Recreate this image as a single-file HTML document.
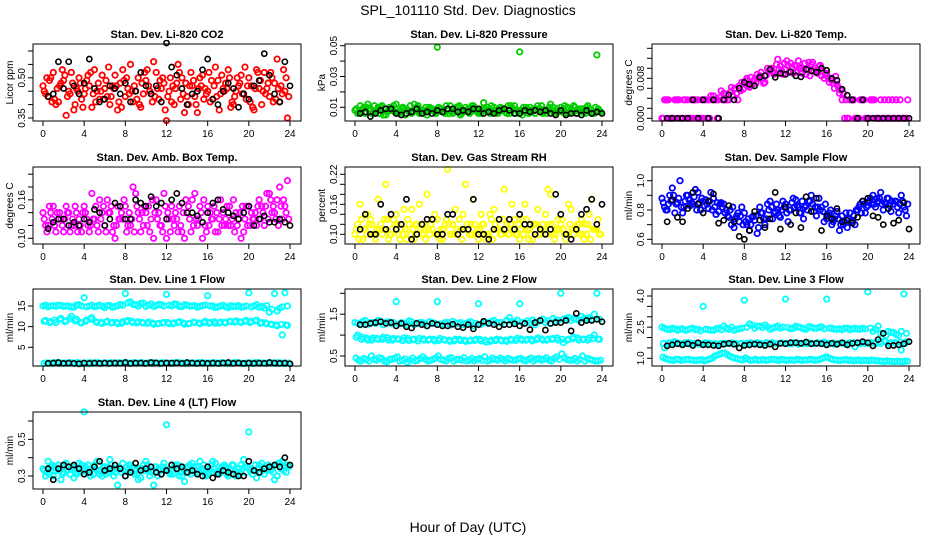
<!DOCTYPE html>
<html><head><meta charset="utf-8">
<style>
body{margin:0;background:#fff;}
svg{display:block;font-family:"Liberation Sans",Arial,sans-serif;}
</style></head>
<body>
<svg id="c" width="936" height="540" viewBox="0 0 936 540">
<text x="468" y="15" font-size="14" text-anchor="middle">SPL_101110  Std. Dev. Diagnostics</text>
<text x="468" y="532" font-size="14" text-anchor="middle">Hour of Day (UTC)</text>
</svg>
<script>
// ---- data ----
const hourTicks=[0,4,8,12,16,20,24];
const co2A=[0.47,0.43,0.52,0.41,0.49,0.45,0.38,0.50,0.44,0.47,0.53,0.42,0.46,0.40,0.51,0.48,0.43,0.55,0.45,0.39,0.49,0.44,0.52,0.46,0.34,0.41,0.48,0.50,0.43,0.47,0.37,0.51,0.45,0.42,0.49,0.46,0.53,0.40,0.47,0.44,0.50,0.38,0.46,0.52,0.43,0.48,0.41,0.45];
const co2B=[0.44,0.50,0.40,0.48,0.36,0.52,0.46,0.42,0.49,0.39,0.45,0.51,0.43,0.47,0.38,0.53,0.46,0.41,0.50,0.44,0.47,0.56,0.42,0.48,0.45,0.40,0.52,0.37,0.47,0.43,0.50,0.46,0.41,0.54,0.44,0.48,0.39,0.45,0.51,0.42,0.47,0.53,0.40,0.46,0.50,0.57,0.44,0.35];
const co2C=[0.45,0.49,0.42,0.47,0.51,0.44,0.40,0.48,0.46,0.52,0.41,0.45,0.49,0.43,0.47,0.39,0.50,0.45,0.42,0.48,0.53,0.41,0.46,0.50,0.43,0.47,0.55,0.44,0.40,0.49,0.46,0.42,0.52,0.47,0.38,0.45,0.50,0.43,0.48,0.54,0.41,0.46,0.49,0.44,0.52,0.42,0.47,0.50];
const co2D=[0.50,0.41,0.46,0.53,0.43,0.48,0.45,0.39,0.51,0.44,0.48,0.42,0.54,0.46,0.41,0.49,0.44,0.47,0.40,0.52,0.45,0.43,0.49,0.38,0.50,0.46,0.42,0.48,0.52,0.40,0.47,0.44,0.49,0.43,0.51,0.46,0.41,0.50,0.44,0.47,0.39,0.52,0.45,0.48,0.41,0.46,0.53,0.43];
const co2K=[0.43,0.44,0.56,0.46,0.56,0.47,0.44,0.48,0.57,0.46,0.41,0.42,0.47,0.46,0.44,0.48,0.41,0.45,0.52,0.47,0.44,0.47,0.41,0.63,0.54,0.51,0.46,0.40,0.44,0.45,0.53,0.57,0.42,0.40,0.45,0.48,0.46,0.39,0.44,0.42,0.47,0.49,0.59,0.51,0.44,0.41,0.56,0.47];
const presA=[0.008,0.011,0.006,0.009,0.007,0.010,0.005,0.008,0.012,0.007,0.009,0.006,0.010,0.008,0.005,0.009,0.049,0.007,0.008,0.006,0.010,0.007,0.009,0.011,0.006,0.013,0.008,0.010,0.007,0.009,0.006,0.011,0.046,0.007,0.010,0.006,0.009,0.008,0.012,0.007,0.010,0.006,0.009,0.008,0.007,0.010,0.006,0.044];
const presB=[0.006,0.009,0.012,0.007,0.010,0.005,0.008,0.011,0.006,0.009,0.007,0.012,0.006,0.008,0.010,0.007,0.009,0.006,0.011,0.008,0.005,0.010,0.007,0.009,0.006,0.008,0.011,0.007,0.009,0.006,0.010,0.008,0.005,0.009,0.007,0.011,0.006,0.008,0.010,0.007,0.009,0.006,0.011,0.008,0.007,0.009,0.006,0.008];
const presC=[0.009,0.007,0.010,0.006,0.008,0.011,0.007,0.009,0.006,0.010,0.008,0.007,0.011,0.006,0.009,0.008,0.010,0.007,0.006,0.009,0.011,0.008,0.006,0.010,0.007,0.009,0.006,0.008,0.010,0.007,0.011,0.006,0.008,0.010,0.007,0.009,0.011,0.006,0.008,0.009,0.007,0.010,0.008,0.006,0.009,0.011,0.007,0.009];
const presD=[0.007,0.010,0.008,0.011,0.006,0.009,0.010,0.007,0.008,0.005,0.011,0.009,0.007,0.010,0.008,0.006,0.009,0.011,0.007,0.010,0.006,0.008,0.011,0.007,0.009,0.010,0.007,0.006,0.008,0.011,0.009,0.007,0.010,0.006,0.009,0.008,0.007,0.010,0.006,0.008,0.011,0.007,0.010,0.009,0.006,0.008,0.010,0.007];
const presK=[0.006,0.007,0.004,0.006,0.008,0.009,0.009,0.006,0.005,0.006,0.007,0.009,0.006,0.007,0.006,0.008,0.007,0.009,0.009,0.007,0.008,0.007,0.009,0.009,0.006,0.007,0.006,0.008,0.009,0.008,0.006,0.006,0.008,0.007,0.008,0.007,0.008,0.006,0.005,0.008,0.005,0.006,0.006,0.005,0.008,0.006,0.007,0.006];
const tempA=[0,0.0037,0,0.0037,0,0.0037,0,0.0037,0,0.0037,0.0045,0.0037,0.0050,0.0037,0.0058,0.0065,0.0070,0.0062,0.0078,0.0085,0.0072,0.0095,0.0090,0.0105,0.0098,0.0110,0.0092,0.0102,0.0088,0.0108,0.0096,0.0085,0.0090,0.0075,0.0068,0.0037,0,0.0037,0,0.0037,0,0.0037,0,0,0.0037,0,0,0];
const tempB=[0.0037,0,0.0037,0,0.0037,0,0.0037,0,0.0037,0.0045,0.0037,0.0055,0.0048,0.0062,0.0050,0.0072,0.0080,0.0068,0.0088,0.0078,0.0100,0.0093,0.0118,0.0088,0.0105,0.0090,0.0115,0.0098,0.0112,0.0094,0.0104,0.0080,0.0072,0.0060,0.0050,0,0.0037,0,0.0037,0,0.0037,0,0.0037,0,0,0.0037,0,0];
const tempC=[0,0.0037,0,0.0037,0.0037,0,0.0037,0,0.0037,0,0.0037,0.0042,0.0037,0.0052,0.0060,0.0055,0.0075,0.0082,0.0070,0.0092,0.0086,0.0100,0.0108,0.0095,0.0115,0.0100,0.0105,0.0090,0.0098,0.0112,0.0090,0.0094,0.0082,0.0070,0.0062,0.0050,0,0.0037,0,0.0037,0,0.0037,0,0.0037,0,0,0.0037,0];
const tempD=[0.0037,0,0.0037,0,0,0.0037,0,0.0037,0,0.0037,0,0.0037,0.0037,0.0045,0.0037,0.0058,0.0065,0.0074,0.0080,0.0070,0.0095,0.0088,0.0098,0.0110,0.0092,0.0106,0.0100,0.0110,0.0085,0.0100,0.0106,0.0088,0.0078,0.0084,0.0056,0.0037,0.0037,0,0.0037,0,0.0037,0,0,0,0.0037,0,0,0.0037];
const tempK=[0,0,0,0,0,0.0037,0,0.0037,0,0.0037,0,0.0037,0.0047,0.0037,0.0060,0.0072,0.0068,0.0065,0.0082,0.0085,0.0098,0.0082,0.0090,0.0088,0.0093,0.0085,0.0083,0.0098,0.0095,0.0092,0.0100,0.0096,0.0080,0.0076,0.0058,0.0046,0.0037,0,0.0037,0,0,0,0,0,0,0,0,0];
const ambA=[0.14,0.12,0.15,0.13,0.11,0.14,0.12,0.13,0.15,0.11,0.13,0.16,0.12,0.14,0.10,0.13,0.15,0.12,0.17,0.11,0.14,0.13,0.16,0.12,0.10,0.15,0.13,0.11,0.14,0.16,0.12,0.10,0.15,0.13,0.11,0.14,0.12,0.16,0.13,0.11,0.15,0.13,0.16,0.12,0.17,0.14,0.18,0.15];
const ambB=[0.12,0.14,0.11,0.13,0.15,0.12,0.14,0.11,0.13,0.17,0.12,0.14,0.16,0.11,0.15,0.13,0.12,0.18,0.14,0.12,0.15,0.10,0.14,0.17,0.13,0.12,0.15,0.10,0.13,0.17,0.15,0.12,0.14,0.11,0.16,0.13,0.12,0.14,0.10,0.15,0.14,0.12,0.15,0.17,0.14,0.16,0.13,0.19];
const ambC=[0.13,0.15,0.12,0.14,0.13,0.11,0.15,0.12,0.14,0.12,0.15,0.13,0.11,0.15,0.12,0.14,0.11,0.13,0.15,0.14,0.12,0.16,0.13,0.11,0.14,0.13,0.11,0.14,0.15,0.12,0.13,0.16,0.12,0.15,0.13,0.12,0.15,0.11,0.14,0.13,0.12,0.14,0.13,0.15,0.16,0.13,0.15,0.14];
const ambD=[0.11,0.13,0.14,0.12,0.14,0.13,0.11,0.14,0.12,0.13,0.11,0.15,0.14,0.12,0.13,0.16,0.14,0.11,0.13,0.15,0.11,0.14,0.12,0.15,0.11,0.14,0.12,0.16,0.11,0.13,0.14,0.11,0.13,0.14,0.12,0.15,0.13,0.12,0.15,0.12,0.13,0.15,0.14,0.13,0.15,0.12,0.16,0.13];
const ambK=[0.115,0.125,0.13,0.13,0.12,0.125,0.12,0.13,0.125,0.145,0.14,0.12,0.13,0.155,0.15,0.13,0.13,0.16,0.155,0.15,0.165,0.15,0.155,0.13,0.16,0.17,0.155,0.14,0.14,0.135,0.125,0.14,0.155,0.16,0.145,0.14,0.135,0.13,0.14,0.15,0.12,0.13,0.135,0.125,0.125,0.13,0.125,0.12];
const rhA=[0.10,0.16,0.11,0.13,0.09,0.12,0.20,0.10,0.14,0.11,0.09,0.15,0.12,0.10,0.18,0.11,0.13,0.09,0.23,0.12,0.10,0.14,0.11,0.17,0.09,0.12,0.10,0.15,0.11,0.19,0.10,0.13,0.09,0.16,0.11,0.12,0.10,0.14,0.18,0.10,0.12,0.09,0.15,0.11,0.13,0.10,0.17,0.11];
const rhB=[0.12,0.09,0.14,0.10,0.17,0.11,0.09,0.13,0.10,0.15,0.12,0.09,0.16,0.11,0.10,0.14,0.09,0.12,0.10,0.15,0.11,0.20,0.12,0.10,0.14,0.09,0.13,0.11,0.10,0.12,0.16,0.10,0.13,0.11,0.09,0.15,0.12,0.19,0.10,0.13,0.11,0.16,0.10,0.12,0.09,0.14,0.11,0.10];
const rhC=[0.11,0.13,0.10,0.12,0.11,0.10,0.13,0.11,0.12,0.10,0.13,0.11,0.10,0.12,0.11,0.13,0.10,0.11,0.12,0.10,0.13,0.11,0.10,0.12,0.11,0.10,0.14,0.12,0.10,0.11,0.12,0.10,0.11,0.13,0.10,0.12,0.11,0.10,0.12,0.11,0.13,0.10,0.11,0.12,0.10,0.12,0.11,0.13];
const rhD=[0.09,0.11,0.12,0.10,0.11,0.13,0.10,0.12,0.09,0.11,0.10,0.12,0.11,0.09,0.12,0.10,0.11,0.13,0.10,0.11,0.09,0.12,0.10,0.11,0.12,0.10,0.09,0.11,0.13,0.10,0.11,0.12,0.10,0.09,0.12,0.10,0.11,0.12,0.09,0.11,0.10,0.12,0.11,0.10,0.12,0.09,0.11,0.10];
const rhK=[0.11,0.14,0.10,0.10,0.16,0.11,0.14,0.11,0.12,0.17,0.09,0.10,0.12,0.13,0.13,0.10,0.10,0.14,0.14,0.10,0.11,0.11,0.17,0.10,0.10,0.09,0.11,0.13,0.11,0.13,0.11,0.14,0.12,0.12,0.10,0.11,0.10,0.11,0.18,0.14,0.10,0.09,0.11,0.14,0.15,0.17,0.12,0.16];
const sfA=[0.88,0.80,0.95,0.85,0.78,0.90,0.84,0.92,0.86,0.81,0.88,0.79,0.84,0.75,0.68,0.72,0.78,0.66,0.73,0.82,0.70,0.86,0.79,0.75,0.84,0.80,0.87,0.78,0.83,0.90,0.76,0.82,0.74,0.70,0.79,0.76,0.68,0.73,0.80,0.86,0.83,0.90,0.86,0.80,0.88,0.84,0.78,0.82];
const sfB=[0.82,0.90,0.78,1.00,0.86,0.83,0.94,0.80,0.87,0.92,0.77,0.85,0.80,0.70,0.76,0.82,0.70,0.75,0.64,0.78,0.84,0.74,0.80,0.86,0.72,0.88,0.82,0.74,0.86,0.79,0.88,0.72,0.78,0.74,0.66,0.72,0.78,0.70,0.84,0.78,0.88,0.82,0.92,0.84,0.79,0.86,0.90,0.76];
const sfC=[0.85,0.84,0.90,0.88,0.82,0.87,0.89,0.85,0.83,0.86,0.82,0.84,0.78,0.80,0.74,0.76,0.72,0.70,0.76,0.78,0.74,0.82,0.84,0.80,0.78,0.85,0.83,0.86,0.80,0.84,0.82,0.79,0.76,0.72,0.74,0.70,0.74,0.76,0.82,0.84,0.86,0.84,0.88,0.85,0.83,0.86,0.84,0.80];
const sfD=[0.80,0.86,0.84,0.82,0.90,0.85,0.80,0.88,0.84,0.80,0.85,0.82,0.76,0.82,0.78,0.70,0.74,0.76,0.68,0.74,0.80,0.78,0.76,0.82,0.80,0.82,0.78,0.82,0.86,0.82,0.80,0.84,0.80,0.76,0.70,0.78,0.72,0.80,0.78,0.82,0.84,0.88,0.84,0.88,0.86,0.82,0.86,0.84];
const sfK=[0.72,0.87,0.75,0.72,0.81,0.92,0.84,0.78,0.86,0.91,0.71,0.73,0.83,0.72,0.62,0.60,0.66,0.79,0.73,0.68,0.74,0.92,0.67,0.82,0.70,0.78,0.68,0.89,0.79,0.88,0.66,0.76,0.74,0.81,0.72,0.73,0.71,0.75,0.86,0.88,0.76,0.75,0.70,0.81,0.71,0.73,0.85,0.67];
const l1A=[15.0,14.8,15.1,15.2,14.9,15.0,14.7,15.3,17,15.0,14.8,15.2,14.6,15.1,14.9,15.4,18,16,15.3,15.6,14.9,15.5,15.1,15.3,17.8,15.0,15.4,14.9,15.2,15.0,14.7,15.1,17.5,15.0,14.8,15.2,14.6,14.9,15.1,14.8,18.2,15.0,14.7,14.5,13.5,18,14.5,18.2];
const l1B=[11.5,11.2,11.0,12.0,11.4,12.5,11.8,10.9,11.6,12.2,11.0,10.8,11.3,11.0,10.7,11.2,11.5,11.0,11.2,10.9,11.1,10.6,10.8,11.0,10.7,10.9,11.2,10.6,10.8,11.0,10.7,11.3,11.0,10.8,11.1,10.9,11.2,11.4,11.0,11.5,11.3,11.6,11.0,10.7,10.5,10.2,8.0,10.3];
const l1C=[1.1,1.2,1.3,1.1,1.2,1.3,1.1,1.2,1.1,1.3,1.2,1.1,1.2,1.3,1.1,1.2,1.3,1.2,1.1,1.3,1.2,1.1,1.2,1.3,1.2,1.1,1.3,1.2,1.1,1.2,1.3,1.1,1.2,1.3,1.1,1.2,1.1,1.3,1.2,1.1,1.2,1.3,1.1,1.2,1.3,1.1,1.2,1.1];
const l1D=[15.2,15.0,14.9,15.1,15.0,14.8,15.2,15.0,14.8,15.2,15.0,14.9,15.1,14.7,15.0,15.2,15.8,15.4,15.0,15.7,15.2,14.9,15.4,15.0,15.2,15.5,14.9,15.3,15.0,15.1,14.9,15.2,15.0,14.6,15.0,14.8,15.1,14.9,14.7,15.0,14.8,15.3,14.9,15.1,14.2,13.8,14.8,15.0];
const l1E=[11.3,11.0,11.6,11.8,11.2,11.9,11.4,11.0,11.3,11.8,11.2,11.0,11.1,10.9,11.0,10.8,11.2,11.3,10.9,11.0,10.8,10.9,10.7,10.9,11.0,10.7,11.0,10.9,10.7,11.1,10.9,11.0,10.8,11.2,10.9,11.0,11.3,11.1,11.2,11.3,11.0,11.4,10.8,10.9,10.6,10.4,10.5,10.4];
const l1F=[1.2,1.1,1.3,1.2,1.1,1.2,1.3,1.1,1.2,1.1,1.3,1.2,1.1,1.2,1.3,1.2,1.1,1.3,1.2,1.1,1.2,1.3,1.1,1.2,1.1,1.3,1.2,1.1,1.2,1.1,1.3,1.2,1.1,1.2,1.3,1.1,1.2,1.3,1.1,1.2,1.1,1.3,1.2,1.1,1.2,1.3,1.1,1.2];
const l1K=[1.1,1.2,1.3,1.1,1.2,1.1,1.0,1.2,1.1,1.2,1.1,1.2,1.1,1.2,1.1,1.3,1.1,1.2,1.2,1.1,1.3,1.2,1.1,1.2,1.2,1.2,1.1,1.3,1.2,1.1,1.2,1.1,1.2,1.1,1.2,1.3,1.1,1.2,1.1,1.2,1.1,1.2,1.1,1.3,1.2,1.1,1.2,1.0];
const l2A=[1.3,1.25,1.35,1.3,1.28,1.33,1.3,1.27,1.8,1.3,1.25,1.32,1.28,1.3,1.22,1.3,1.8,1.26,1.3,1.33,1.28,1.25,1.3,1.22,1.75,1.3,1.28,1.35,1.3,1.26,1.42,1.32,1.75,1.28,1.3,1.25,1.35,1.3,1.28,1.34,2.0,1.4,1.35,1.38,1.45,1.4,1.38,2.0];
const l2B=[1.0,0.95,0.88,0.93,0.9,0.95,0.88,0.92,0.9,0.93,0.87,0.9,0.92,0.88,0.9,0.86,0.92,0.88,0.85,0.9,0.87,0.85,0.88,0.9,0.86,0.83,0.88,0.9,0.86,0.85,0.88,0.92,0.88,0.9,0.86,0.93,0.88,0.9,0.92,0.88,0.82,0.9,0.95,0.88,0.9,0.93,1.0,0.9];
const l2C=[0.45,0.38,0.42,0.5,0.4,0.44,0.36,0.42,0.48,0.4,0.35,0.45,0.4,0.48,0.38,0.42,0.5,0.4,0.44,0.38,0.42,0.46,0.4,0.38,0.44,0.48,0.4,0.42,0.45,0.38,0.42,0.4,0.44,0.38,0.45,0.42,0.4,0.46,0.38,0.48,0.55,0.42,0.4,0.38,0.5,0.44,0.4,0.38];
const l2D=[1.28,1.32,1.26,1.3,1.35,1.25,1.32,1.3,1.26,1.28,1.34,1.25,1.3,1.27,1.32,1.28,1.26,1.3,1.24,1.28,1.3,1.27,1.32,1.28,1.26,1.3,1.33,1.28,1.3,1.35,1.32,1.36,1.3,1.34,1.36,1.32,1.38,1.34,1.4,1.36,1.38,1.42,1.4,1.36,1.4,1.42,1.5,1.38];
const l2E=[0.95,0.9,0.93,0.88,0.92,0.9,0.94,0.88,0.91,0.87,0.92,0.89,0.86,0.91,0.88,0.9,0.87,0.89,0.88,0.86,0.9,0.88,0.86,0.87,0.9,0.88,0.85,0.87,0.89,0.88,0.9,0.87,0.91,0.88,0.9,0.89,0.91,0.88,0.9,0.93,0.9,0.88,0.91,0.93,0.9,0.88,0.92,0.9];
const l2F=[0.4,0.44,0.38,0.42,0.46,0.38,0.42,0.45,0.38,0.43,0.4,0.38,0.44,0.42,0.4,0.45,0.42,0.38,0.46,0.42,0.4,0.38,0.44,0.42,0.4,0.38,0.45,0.4,0.42,0.44,0.4,0.43,0.4,0.42,0.38,0.44,0.42,0.4,0.44,0.42,0.46,0.4,0.44,0.42,0.38,0.42,0.38,0.4];
const l2K=[1.25,1.25,1.28,1.3,1.32,1.28,1.3,1.22,1.28,1.2,1.17,1.28,1.25,1.22,1.28,1.25,1.22,1.22,1.26,1.2,1.18,1.25,1.15,1.25,1.33,1.28,1.25,1.2,1.25,1.25,1.27,1.22,1.28,1.13,1.3,1.35,1.12,1.28,1.3,1.3,1.35,1.1,1.52,1.3,1.35,1.35,1.38,1.32];
const l3A=[2.5,2.4,2.45,2.35,2.42,2.38,2.45,2.4,3.5,2.38,2.35,2.45,2.55,2.4,2.35,2.42,3.8,2.65,2.45,2.55,2.6,2.4,2.5,2.45,3.85,2.42,2.55,2.48,2.4,2.5,2.45,2.52,3.85,2.45,2.4,2.38,2.45,2.42,2.4,2.45,4.2,2.3,2.55,2.2,2.3,2.25,2.1,4.1];
const l3B=[1.5,1.75,1.8,1.7,1.75,1.68,1.72,1.7,1.75,1.7,1.65,1.72,1.7,1.75,1.68,1.72,1.72,1.7,1.75,1.68,1.72,1.75,1.7,1.72,1.7,1.75,1.68,1.72,1.75,1.7,1.72,1.78,1.7,1.68,1.72,1.7,1.75,1.55,1.7,1.72,1.75,1.7,1.72,1.8,1.75,1.72,1.4,1.8];
const l3C=[1.05,0.95,0.9,0.95,0.92,0.95,0.9,0.92,0.88,0.95,1.1,1.2,1.25,1.1,1.0,0.95,1.02,0.9,0.95,0.92,0.9,0.95,0.92,0.95,0.9,0.92,0.95,0.9,0.92,0.95,0.92,1.0,1.05,0.95,0.9,0.92,0.9,0.88,0.92,0.9,0.88,0.9,0.88,0.85,0.86,0.84,0.85,0.86];
const l3D=[2.45,2.38,2.42,2.4,2.35,2.42,2.38,2.32,2.4,2.35,2.42,2.38,2.45,2.5,2.4,2.45,2.5,2.6,2.55,2.48,2.52,2.45,2.55,2.5,2.48,2.45,2.5,2.42,2.52,2.45,2.48,2.42,2.45,2.4,2.42,2.45,2.38,2.45,2.4,2.42,2.45,2.4,2.2,2.1,2.25,2.15,2.3,2.2];
const l3E=[1.72,1.7,1.75,1.72,1.7,1.75,1.72,1.68,1.7,1.72,1.7,1.68,1.72,1.7,1.72,1.7,1.68,1.75,1.72,1.7,1.75,1.72,1.7,1.74,1.72,1.7,1.75,1.72,1.7,1.72,1.75,1.72,1.7,1.74,1.7,1.72,1.7,1.75,1.72,1.74,1.7,1.75,1.8,1.85,1.7,1.75,1.78,1.72];
const l3F=[0.98,0.92,0.95,0.9,0.94,0.92,0.9,0.94,0.92,1.0,1.15,1.25,1.18,1.05,0.98,0.92,0.95,0.92,0.9,0.94,0.92,0.95,0.9,0.93,0.92,0.9,0.94,0.92,0.95,0.9,0.95,1.05,0.98,0.92,0.9,0.94,0.92,0.9,0.88,0.9,0.92,0.88,0.86,0.88,0.85,0.86,0.84,0.86];
const l3K=[1.6,1.65,1.7,1.65,1.7,1.62,1.75,1.65,1.65,1.62,1.6,1.68,1.72,1.68,1.5,1.62,1.65,1.68,1.65,1.62,1.68,1.55,1.72,1.7,1.75,1.75,1.72,1.78,1.7,1.72,1.7,1.65,1.72,1.68,1.75,1.65,1.72,1.75,1.8,1.75,1.6,1.9,2.2,1.6,1.62,1.65,1.7,1.8];
const l4A=[0.34,0.38,0.30,0.36,0.32,0.35,0.29,0.37,0.65,0.33,0.36,0.31,0.35,0.39,0.32,0.34,0.30,0.36,0.33,0.29,0.38,0.32,0.35,0.31,0.58,0.36,0.33,0.30,0.35,0.37,0.32,0.34,0.31,0.38,0.33,0.35,0.30,0.36,0.34,0.39,0.54,0.33,0.36,0.31,0.34,0.28,0.37,0.35];
const l4B=[0.30,0.35,0.33,0.28,0.37,0.34,0.31,0.36,0.32,0.34,0.38,0.30,0.35,0.33,0.25,0.37,0.32,0.35,0.28,0.36,0.33,0.25,0.34,0.37,0.32,0.35,0.30,0.27,0.36,0.33,0.38,0.31,0.34,0.37,0.32,0.35,0.33,0.30,0.36,0.32,0.34,0.29,0.37,0.33,0.35,0.30,0.38,0.36];
const l4C=[0.33,0.31,0.35,0.33,0.36,0.31,0.34,0.32,0.35,0.30,0.34,0.33,0.31,0.36,0.34,0.32,0.35,0.33,0.31,0.34,0.36,0.33,0.30,0.35,0.33,0.31,0.36,0.34,0.32,0.35,0.33,0.36,0.32,0.34,0.31,0.36,0.34,0.33,0.31,0.35,0.33,0.36,0.32,0.34,0.33,0.36,0.34,0.32];
const l4D=[0.32,0.36,0.34,0.31,0.33,0.35,0.32,0.34,0.36,0.31,0.33,0.35,0.32,0.30,0.35,0.33,0.36,0.31,0.34,0.33,0.30,0.35,0.33,0.34,0.31,0.36,0.32,0.34,0.31,0.35,0.33,0.30,0.36,0.32,0.35,0.31,0.36,0.32,0.34,0.35,0.31,0.34,0.33,0.36,0.32,0.37,0.33,0.35];
const l4K=[0.34,0.28,0.34,0.36,0.35,0.36,0.34,0.31,0.32,0.35,0.38,0.33,0.34,0.36,0.34,0.30,0.32,0.37,0.33,0.34,0.35,0.32,0.31,0.33,0.36,0.34,0.35,0.32,0.33,0.31,0.30,0.35,0.29,0.31,0.33,0.32,0.31,0.30,0.30,0.38,0.33,0.32,0.34,0.35,0.36,0.35,0.40,0.36];
const co2Ticks=[0.35,0.40,0.45,0.50,0.55,0.60], co2Labels=["0.35","","","0.50","",""];
const presTicks=[0.01,0.02,0.03,0.04,0.05], presLabels=["0.01","","0.03","","0.05"];
const tempTicks=[0,0.002,0.004,0.006,0.008,0.010,0.012,0.014], tempLabels=["0.000","","","","0.008","","",""];
const ambTicks=[0.10,0.12,0.14,0.16,0.18,0.20], ambLabels=["0.10","","","0.16","",""];
const rhTicks=[0.10,0.12,0.14,0.16,0.18,0.20,0.22], rhLabels=["0.10","","","0.16","","","0.22"];
const sfTicks=[0.6,0.7,0.8,0.9,1.0], sfLabels=["0.6","","0.8","","1.0"];
const l1Ticks=[5,10,15], l1Labels=["5","10","15"];
const l2Ticks=[0.5,1.0,1.5,2.0], l2Labels=["0.5","","1.5",""];
const l3Ticks=[1.0,1.5,2.0,2.5,3.0,3.5,4.0], l3Labels=["1.0","","","2.5","","","4.0"];
const l4Ticks=[0.3,0.4,0.5,0.6], l4Labels=["0.3","","0.5",""];

// ---- layout ----
const NS="http://www.w3.org/2000/svg";
const svg=document.getElementById('c');
function mk(tag,attrs,parent){const e=document.createElementNS(NS,tag);for(const k in attrs)e.setAttribute(k,attrs[k]);(parent||svg).appendChild(e);return e;}
const cols=[33,345,652], rows=[44,167,289,412], W=268, H=77;
const off4=[0,0.25,0.125,0.375], off6=[0,0.25,0.1,0.125,0.375,0.35];
const panels=[
 {slug:'co2',title:'Stan. Dev. Li-820 CO2',yl:'Licor ppm',c:0,r:0,v0:0.35,p0:118,v1:0.60,p1:51,col:'#ff0000',ser:[co2A,co2B,co2C,co2D],k:co2K,ticks:co2Ticks,labels:co2Labels},
 {slug:'pressure',title:'Stan. Dev. Li-820 Pressure',yl:'kPa',c:1,r:0,v0:0.01,p0:107.3,v1:0.05,p1:45.7,col:'#00cc00',ser:[presA,presB,presC,presD],k:presK,ticks:presTicks,labels:presLabels},
 {slug:'temp',title:'Stan. Dev. Li-820 Temp.',yl:'degrees C',c:2,r:0,v0:0,p0:118.3,v1:0.014,p1:48.3,col:'#ff00ff',ser:[tempA,tempB,tempC,tempD],k:tempK,ticks:tempTicks,labels:tempLabels},
 {slug:'amb-box-temp',title:'Stan. Dev. Amb. Box Temp.',yl:'degrees C',c:0,r:1,v0:0.10,p0:238.3,v1:0.20,p1:174.2,col:'#ff00ff',ser:[ambA,ambB,ambC,ambD],k:ambK,ticks:ambTicks,labels:ambLabels},
 {slug:'gas-rh',title:'Stan. Dev. Gas Stream RH',yl:'percent',c:1,r:1,v0:0.10,p0:234.3,v1:0.22,p1:174.3,col:'#ffff00',ser:[rhA,rhB,rhC,rhD],k:rhK,ticks:rhTicks,labels:rhLabels},
 {slug:'sample-flow',title:'Stan. Dev. Sample Flow',yl:'ml/min',c:2,r:1,v0:0.6,p0:239.3,v1:1.0,p1:180.7,col:'#0000ff',ser:[sfA,sfB,sfC,sfD],k:sfK,ticks:sfTicks,labels:sfLabels},
 {slug:'line1',title:'Stan. Dev. Line 1 Flow',yl:'ml/min',c:0,r:2,v0:5,p0:347.3,v1:15,p1:306,col:'#00ffff',ser:[l1A,l1B,l1C,l1D,l1E,l1F],six:true,k:l1K,ticks:l1Ticks,labels:l1Labels},
 {slug:'line2',title:'Stan. Dev. Line 2 Flow',yl:'ml/min',c:1,r:2,v0:0.5,p0:356,v1:2.0,p1:293.3,col:'#00ffff',ser:[l2A,l2B,l2C,l2D,l2E,l2F],six:true,k:l2K,ticks:l2Ticks,labels:l2Labels},
 {slug:'line3',title:'Stan. Dev. Line 3 Flow',yl:'ml/min',c:2,r:2,v0:1.0,p0:358.3,v1:4.0,p1:296,col:'#00ffff',ser:[l3A,l3B,l3C,l3D,l3E,l3F],six:true,k:l3K,ticks:l3Ticks,labels:l3Labels},
 {slug:'line4',title:'Stan. Dev. Line 4 (LT) Flow',yl:'ml/min',c:0,r:3,v0:0.3,p0:476,v1:0.6,p1:421,col:'#00ffff',ser:[l4A,l4B,l4C,l4D],k:l4K,ticks:l4Ticks,labels:l4Labels}
];
panels.forEach(p=>{
 const L=cols[p.c], T=rows[p.r], B=T+H;
 const xs=h=>L+10+h*(247/24);
 const ys=v=>p.p0+(v-p.v0)*(p.p1-p.p0)/(p.v1-p.v0);
 const offs=p.six?[0,0.25,0.1,0.25,0.125,0.35]:off4;
 const g=mk('g',{});
 
 
 const cp=mk('clipPath',{id:'clip-'+p.slug},g);
 mk('rect',{x:L-4,y:T-4,width:W+8,height:H+8},cp);
 const cg=mk('g',{'clip-path':'url(#clip-'+p.slug+')'},g);
 p.ser.forEach((arr,si)=>{
  arr.forEach((v,i)=>{
   const c=mk('circle',{cx:xs(i*0.5+offs[si]),cy:ys(v),r:2.7,fill:'none',stroke:p.col,'stroke-width':1.8},cg);
   
   
  });
 });
 p.k.forEach((v,i)=>{
  const c=mk('circle',{cx:xs(0.5*(i+1)),cy:ys(v),r:2.6,fill:'none',stroke:'#000','stroke-width':1.6},cg);
  
  
 });
 const box=mk('rect',{x:L,y:T,width:W,height:H,fill:'none',stroke:'#000','stroke-width':1},g);
 
 
 const t=mk('text',{x:L+W/2,y:T-6,'font-size':11,'font-weight':'bold','text-anchor':'middle'},g);
 t.textContent=p.title;
 
 
 hourTicks.forEach(h=>{
  mk('line',{x1:xs(h),x2:xs(h),y1:B,y2:B+5,stroke:'#000'},g);
  const tl=mk('text',{x:xs(h),y:B+16,'font-size':10,'text-anchor':'middle'},g);
  tl.textContent=h;
  
  
 });
 p.ticks.forEach((v,i)=>{
  const y=ys(v);
  mk('line',{x1:L-5,x2:L,y1:y,y2:y,stroke:'#000'},g);
  if(p.labels[i]){
   const tl=mk('text',{x:0,y:0,'font-size':10,'text-anchor':'middle',transform:'translate('+(L-8)+','+y+') rotate(-90)'},g);
   tl.textContent=p.labels[i];
   
   
  }
 });
 const yt=mk('text',{x:0,y:0,'font-size':10,'text-anchor':'middle',transform:'translate('+(L-20)+','+(T+H/2)+') rotate(-90)'},g);
 yt.textContent=p.yl;
 
 
});
</script>
</body></html>
